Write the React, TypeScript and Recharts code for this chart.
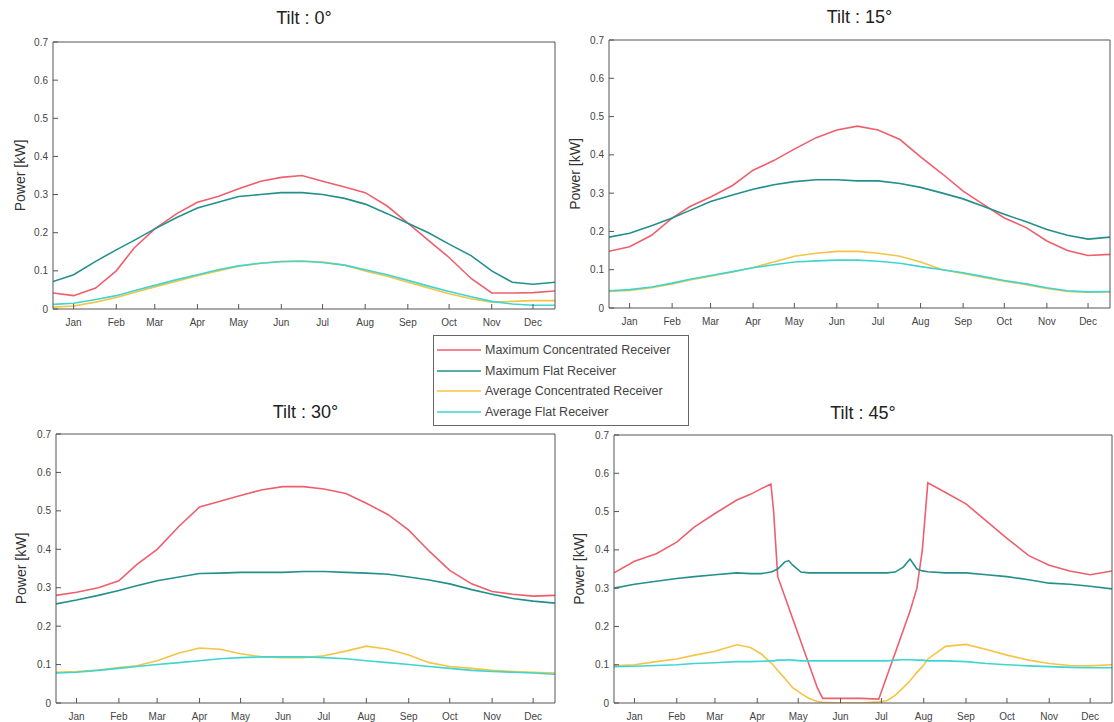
import React from "react";
import {
  LineChart,
  Line,
  XAxis,
  YAxis,
  Legend,
  Label,
} from "recharts";

// day-of-year sample points (mid-month and month start)
const DAYS = [0, 15, 31, 46, 59, 74, 90, 105, 120, 135, 151, 166, 181, 196, 212, 227, 243, 258, 273, 288, 304, 319, 334, 349, 365];
// tilt 45 needs more points around the drop-outs
const DAYS_45 = [0, 15, 31, 46, 59, 74, 90, 100, 108, 115, 117, 120, 125, 128, 131, 137, 143, 149, 153, 166, 181, 194, 200, 206, 212, 217, 222, 226, 230, 243, 258, 273, 288, 304, 319, 334, 349, 365];

const MONTH_TICKS = [15, 46, 74, 105, 135, 166, 196, 227, 258, 288, 319, 349];
const MONTH_LABELS = ["Jan", "Feb", "Mar", "Apr", "May", "Jun", "Jul", "Aug", "Sep", "Oct", "Nov", "Dec"];
const POWER_TICKS = [0, 0.1, 0.2, 0.3, 0.4, 0.5, 0.6, 0.7];

const SERIES_NAMES = [
  "Maximum Concentrated Receiver",
  "Maximum Flat Receiver",
  "Average Concentrated Receiver",
  "Average Flat Receiver",
];
const SERIES_COLORS = ["#ee5f6d", "#23908c", "#f4c445", "#3fd5d2"];

// Tilt 0
const MAX_CONC_0 = [0.042, 0.035, 0.055, 0.1, 0.16, 0.21, 0.25, 0.28, 0.295, 0.315, 0.335, 0.345, 0.35, 0.335, 0.32, 0.305, 0.27, 0.225, 0.18, 0.135, 0.08, 0.042, 0.042, 0.043, 0.047];
const MAX_FLAT_0 = [0.072, 0.09, 0.125, 0.155, 0.18, 0.21, 0.24, 0.265, 0.28, 0.295, 0.3, 0.305, 0.305, 0.3, 0.29, 0.275, 0.25, 0.225, 0.2, 0.17, 0.14, 0.1, 0.07, 0.065, 0.07];
const AVG_CONC_0 = [0.005, 0.008, 0.018, 0.03, 0.043, 0.058, 0.073, 0.087, 0.1, 0.112, 0.12, 0.125, 0.126, 0.123, 0.115, 0.1, 0.086, 0.07, 0.055, 0.04, 0.027, 0.018, 0.02, 0.022, 0.022];
const AVG_FLAT_0 = [0.012, 0.015, 0.025, 0.035, 0.048, 0.062, 0.077, 0.09, 0.103, 0.113, 0.12, 0.124, 0.125, 0.122, 0.115, 0.103, 0.09, 0.075, 0.06, 0.046, 0.032, 0.02, 0.013, 0.01, 0.01];

// Tilt 15
const MAX_CONC_15 = [0.148, 0.16, 0.19, 0.235, 0.265, 0.29, 0.32, 0.36, 0.385, 0.415, 0.445, 0.465, 0.475, 0.465, 0.44, 0.395, 0.35, 0.305, 0.27, 0.235, 0.21, 0.175, 0.15, 0.137, 0.14];
const MAX_FLAT_15 = [0.185, 0.195, 0.215, 0.235, 0.255, 0.278, 0.295, 0.31, 0.322, 0.33, 0.335, 0.335, 0.332, 0.332, 0.325, 0.315, 0.3, 0.285, 0.265, 0.245, 0.225, 0.205, 0.19, 0.18, 0.185];
const AVG_CONC_15 = [0.043, 0.046, 0.053, 0.063, 0.073, 0.083, 0.094, 0.106, 0.12, 0.135, 0.143, 0.148, 0.148, 0.143, 0.135, 0.12, 0.1, 0.09, 0.08, 0.07, 0.061, 0.051, 0.043, 0.041, 0.042];
const AVG_FLAT_15 = [0.045, 0.048, 0.055, 0.065, 0.075, 0.085, 0.095, 0.105, 0.113, 0.12, 0.123, 0.125, 0.125, 0.122, 0.117, 0.108, 0.1, 0.092, 0.082, 0.072, 0.063, 0.053, 0.045, 0.042, 0.043];

// Tilt 30
const MAX_CONC_30 = [0.28, 0.288, 0.3, 0.318, 0.36, 0.4, 0.46, 0.51, 0.525, 0.54, 0.555, 0.563, 0.563, 0.557, 0.545, 0.52, 0.49, 0.45, 0.395, 0.345, 0.31, 0.29, 0.283, 0.278, 0.28];
const MAX_FLAT_30 = [0.258, 0.268, 0.28, 0.293, 0.305, 0.318, 0.328, 0.337, 0.338, 0.34, 0.34, 0.34, 0.342, 0.342, 0.34, 0.338, 0.335, 0.328, 0.32, 0.31, 0.295, 0.283, 0.272, 0.265, 0.26];
const AVG_CONC_30 = [0.08, 0.082, 0.086, 0.092, 0.097, 0.11, 0.13, 0.143, 0.14, 0.128, 0.12, 0.118, 0.118, 0.123, 0.135, 0.148, 0.14, 0.125, 0.105, 0.095, 0.09, 0.085, 0.082, 0.08, 0.078];
const AVG_FLAT_30 = [0.078, 0.08, 0.085, 0.09, 0.095, 0.1, 0.105, 0.11, 0.115, 0.118, 0.12, 0.12, 0.12, 0.118, 0.115, 0.11, 0.105, 0.1, 0.095, 0.09, 0.085, 0.082, 0.08, 0.078, 0.075];

// Tilt 45
const MAX_CONC_45 = [0.34, 0.37, 0.39, 0.42, 0.46, 0.495, 0.53, 0.545, 0.56, 0.572, 0.5, 0.33, 0.28, 0.25, 0.22, 0.16, 0.1, 0.04, 0.012, 0.012, 0.012, 0.01, 0.07, 0.13, 0.19, 0.24, 0.3, 0.4, 0.575, 0.55, 0.52, 0.475, 0.43, 0.385, 0.36, 0.345, 0.335, 0.345];
const MAX_FLAT_45 = [0.3, 0.31, 0.318, 0.325, 0.33, 0.335, 0.34, 0.338, 0.338, 0.342, 0.345, 0.35, 0.368, 0.372, 0.36, 0.342, 0.34, 0.34, 0.34, 0.34, 0.34, 0.34, 0.34, 0.342, 0.355, 0.376, 0.35, 0.345, 0.343, 0.34, 0.34, 0.335, 0.33, 0.322, 0.313, 0.31, 0.305, 0.298];
const AVG_CONC_45 = [0.097, 0.1, 0.108, 0.115, 0.125, 0.135, 0.152, 0.145, 0.128, 0.105, 0.098, 0.085, 0.065, 0.052, 0.04, 0.025, 0.012, 0.004, 0.002, 0, 0, 0.003, 0.006, 0.02, 0.04, 0.058, 0.08, 0.095, 0.115, 0.148, 0.153, 0.14, 0.125, 0.112, 0.103, 0.098, 0.097, 0.1];
const AVG_FLAT_45 = [0.095, 0.096, 0.098, 0.1, 0.103, 0.105, 0.108, 0.108, 0.109, 0.11, 0.11, 0.112, 0.112, 0.113, 0.112, 0.11, 0.11, 0.11, 0.11, 0.11, 0.11, 0.11, 0.11, 0.112, 0.113, 0.113, 0.112, 0.112, 0.11, 0.11, 0.108, 0.103, 0.1, 0.097, 0.095, 0.093, 0.092, 0.092];

const FONT = '"Liberation Sans", Arial, sans-serif';
const AXIS_COLOR = "#555";

type Box = { left: number; top: number; right: number; bottom: number };

type PanelProps = {
  title: string;
  days: number[];
  series: number[][];
  plot: Box;
  chart: Box;
  titleY: number;
  labelX: number;
  showLegend?: boolean;
};

const buildRows = (days: number[], series: number[][]) =>
  days.map((day, i) => ({
    day,
    mc: series[0][i],
    mf: series[1][i],
    ac: series[2][i],
    af: series[3][i],
  }));

// legend drawn in plot order (recharts would sort it by name)
const LegendBox = () => (
  <div
    style={{
      border: "1px solid #666",
      background: "#fff",
      padding: "4px 6px 3px 3px",
      fontFamily: FONT,
      fontSize: 12.5,
      color: "#444",
      boxSizing: "border-box",
    }}
  >
    {SERIES_NAMES.map((name, i) => (
      <div key={name} style={{ display: "flex", alignItems: "center", height: 20.5 }}>
        <svg width={44} height={6} style={{ marginRight: 4 }}>
          <line x1={0} y1={3} x2={44} y2={3} stroke={SERIES_COLORS[i]} strokeWidth={1.5} />
        </svg>
        <span>{name}</span>
      </div>
    ))}
  </div>
);

const Panel: React.FC<PanelProps> = ({ title, days, series, plot, chart, titleY, labelX, showLegend }) => {
  const data = buildRows(days, series);
  const width = chart.right - chart.left;
  const height = chart.bottom - chart.top;
  const yAxisWidth = plot.left - chart.left;
  const xAxisHeight = 22;
  const keys = ["mc", "mf", "ac", "af"];

  return (
    <div style={{ position: "absolute", left: chart.left, top: chart.top }}>
      <div
        style={{
          position: "absolute",
          left: 0,
          width: plot.right - chart.left + plot.left - chart.left,
          top: titleY - chart.top - 11,
          textAlign: "center",
          fontFamily: FONT,
          fontSize: 18,
          color: "#222",
          lineHeight: "22px",
        }}
      >
        {title}
      </div>
      <LineChart
        width={width}
        height={height}
        data={data}
        margin={{
          top: plot.top - chart.top - 1,
          right: chart.right - plot.right - 1,
          left: 0,
          bottom: chart.bottom - plot.bottom - xAxisHeight,
        }}
      >
        <XAxis
          dataKey="day"
          type="number"
          domain={[0, 365]}
          allowDataOverflow
          ticks={MONTH_TICKS}
          tickFormatter={(v: number) => MONTH_LABELS[MONTH_TICKS.indexOf(v)]}
          height={xAxisHeight}
          tickSize={-5}
          tickMargin={15}
          stroke={AXIS_COLOR}
          tick={{ fontSize: 10, fill: "#444", fontFamily: FONT }}
        />
        <XAxis
          xAxisId="t"
          orientation="top"
          type="number"
          domain={[0, 365]}
          allowDataOverflow
          ticks={MONTH_TICKS}
          height={1}
          tickSize={-5}
          tick={false}
          stroke={AXIS_COLOR}
        />
        <YAxis
          type="number"
          domain={[0, 0.7]}
          allowDataOverflow
          ticks={POWER_TICKS}
          tickFormatter={(v: number) => (v === 0 ? "0" : v.toFixed(1))}
          width={yAxisWidth}
          tickSize={-5}
          tickMargin={10}
          stroke={AXIS_COLOR}
          tick={{ fontSize: 10, fill: "#444", fontFamily: FONT }}
        >
          <Label
            value="Power [kW]"
            angle={-90}
            position="center"
            dx={labelX - chart.left - yAxisWidth / 2}
            style={{ fontSize: 14, fill: "#333", fontFamily: FONT }}
          />
        </YAxis>
        <YAxis
          yAxisId="r"
          orientation="right"
          type="number"
          domain={[0, 0.7]}
          allowDataOverflow
          ticks={POWER_TICKS}
          width={1}
          tickSize={-5}
          tick={false}
          stroke={AXIS_COLOR}
        />
        {keys.map((k, i) => (
          <Line
            key={k}
            dataKey={k}
            name={SERIES_NAMES[i]}
            type="linear"
            stroke={SERIES_COLORS[i]}
            strokeWidth={1.6}
            dot={false}
            activeDot={false}
            isAnimationActive={false}
          />
        ))}
        {showLegend && (
          <Legend
            layout="vertical"
            align="center"
            verticalAlign="middle"
            content={LegendBox}
            wrapperStyle={{ position: "absolute", left: 433 - chart.left, top: 335 - chart.top, width: 256, height: 88 }}
          />
        )}
      </LineChart>
    </div>
  );
};

export default function App() {
  return (
    <div style={{ position: "absolute", left: 0, top: 0, width: 1114, height: 722, background: "#fff", overflow: "hidden" }}>
      <Panel
        title="Tilt : 0°"
        days={DAYS}
        series={[MAX_CONC_0, MAX_FLAT_0, AVG_CONC_0, AVG_FLAT_0]}
        chart={{ left: 0, top: 30, right: 560, bottom: 335 }}
        plot={{ left: 53, top: 42, right: 555, bottom: 309 }}
        titleY={18}
        labelX={20}
        showLegend
      />
      <Panel
        title="Tilt : 15°"
        days={DAYS}
        series={[MAX_CONC_15, MAX_FLAT_15, AVG_CONC_15, AVG_FLAT_15]}
        chart={{ left: 560, top: 30, right: 1114, bottom: 335 }}
        plot={{ left: 609, top: 40, right: 1110, bottom: 308 }}
        titleY={17}
        labelX={575}
      />
      <Panel
        title="Tilt : 30°"
        days={DAYS}
        series={[MAX_CONC_30, MAX_FLAT_30, AVG_CONC_30, AVG_FLAT_30]}
        chart={{ left: 0, top: 425, right: 560, bottom: 722 }}
        plot={{ left: 56, top: 434, right: 555, bottom: 703 }}
        titleY={412}
        labelX={21}
      />
      <Panel
        title="Tilt : 45°"
        days={DAYS_45}
        series={[MAX_CONC_45, MAX_FLAT_45, AVG_CONC_45, AVG_FLAT_45]}
        chart={{ left: 560, top: 425, right: 1114, bottom: 722 }}
        plot={{ left: 614, top: 435, right: 1112, bottom: 703 }}
        titleY={413}
        labelX={579}
      />
    </div>
  );
}
